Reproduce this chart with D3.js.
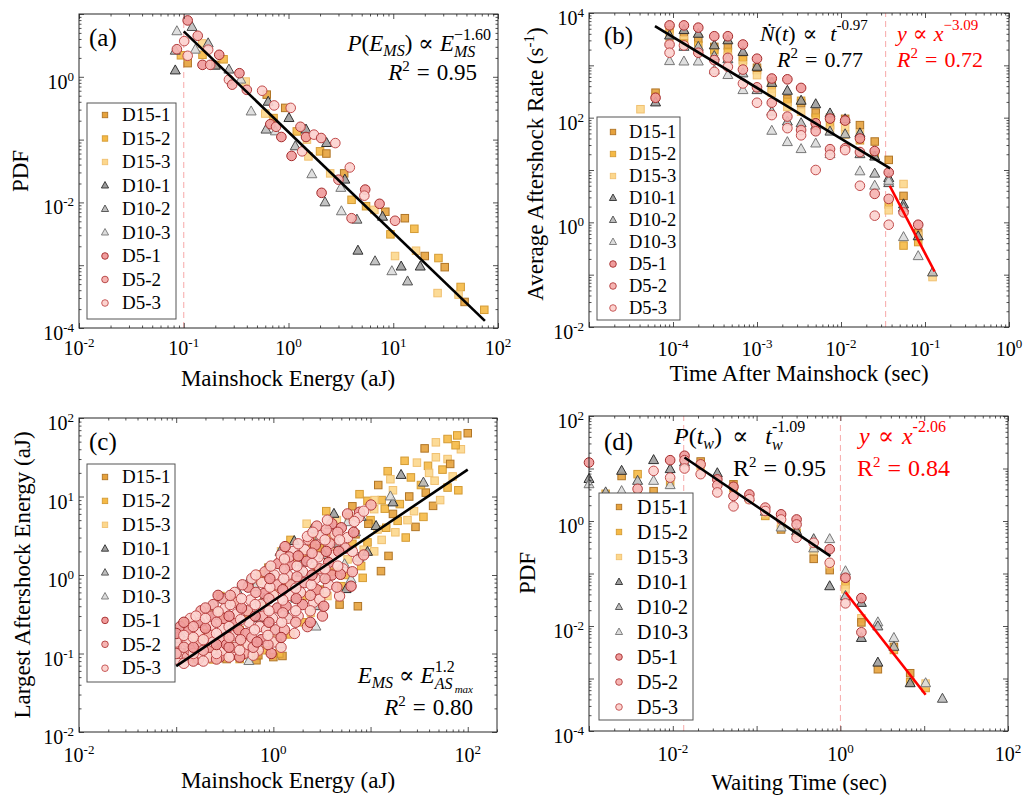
<!DOCTYPE html>
<html><head><meta charset="utf-8">
<script src="https://cdn.jsdelivr.net/npm/d3@7"></script>
<style>
body{margin:0;background:#fff;}
svg{display:block;}
</style></head><body>
<svg id="chart" width="1025" height="803"></svg>
<script>
// ---------------- DATA ----------------
const seriesNames = ['D15-1','D15-2','D15-3','D10-1','D10-2','D10-3','D5-1','D5-2','D5-3'];

// Panel (a): [mainshock energy, PDF, sub-series]
const a_D15 = [[0.094,2.2,2],[0.109,1.65,1],[0.151,2.24,2],[0.15,3.4,3],[0.2,1.55,1],[0.24,1.9,2],[0.39,0.84,3],[0.62,0.52,1],[0.6,0.26,3],[0.72,0.22,2],[0.93,0.32,1],[1.2,0.135,2],[1.5,0.1,3],[1.55,0.054,3],[2.0,0.065,2],[2.3,0.06,1],[2.5,0.029,3],[3.4,0.029,1],[4.0,0.011,2],[5.5,0.0087,2],[6.6,0.0076,3],[8.4,0.0071,1],[9.4,0.0031,2],[10.4,0.0014,3],[12.9,0.0056,1],[15.9,0.0038,2],[16.5,0.0017,3],[20,0.0014,1],[27,0.0013,2],[26.5,0.00036,3],[31,0.00093,1],[44,0.00045,2],[42,0.00034,3],[48,0.00026,1],[74,0.000195,2]];
const a_D10 = [[0.086,5.3,3],[0.12,6.2,2],[0.083,2.6,2],[0.083,1.26,1],[0.171,3.4,2],[0.129,2.7,3],[0.2,1.5,1],[0.27,1.3,2],[0.35,0.9,3],[0.44,0.28,3],[0.61,0.144,2],[0.64,0.4,1],[0.75,0.135,3],[1.01,0.22,1],[1.16,0.078,2],[1.47,0.144,1],[1.67,0.028,3],[2.31,0.088,1],[2.23,0.01,2],[3.16,0.017,3],[3.45,0.023,1],[3.2,0.0072,3],[4.5,0.0053,2],[4.6,0.0017,1],[6.7,0.00115,2],[7.9,0.0059,1],[9.7,0.0008,3],[11.9,0.00095,1],[13.7,0.00055,2],[18.1,0.00095,1]];
const a_D5 = [[0.109,7.9,1],[0.101,3.7,3],[0.086,2.75,2],[0.109,2.16,3],[0.136,4.5,2],[0.151,1.55,1],[0.171,2.7,3],[0.179,1.55,2],[0.218,2.24,1],[0.27,0.9,3],[0.29,0.75,2],[0.34,1.14,1],[0.4,0.62,2],[0.56,0.6,3],[0.73,0.35,3],[0.67,0.176,1],[0.76,0.16,2],[0.855,0.11,1],[1.05,0.32,3],[1.07,0.055,1],[1.3,0.16,2],[1.35,0.065,3],[1.47,0.11,1],[1.75,0.12,3],[2.05,0.106,2],[2.8,0.088,3],[2.07,0.0142,1],[3.0,0.023,2],[3.85,0.036,3],[4.0,0.0056,2],[5.4,0.016,1],[5.3,0.0128,3],[7.4,0.0095,1],[10.4,0.0051,2]];
const a_fit = [[0.1,5.3],[75,0.00013]];
const a_cut = 0.1;

// Panel (b): [time after mainshock, rate, sub-series]
const b_D15 = [[4.1e-5,145,3],[6.2e-5,300,1],[6.2e-5,250,2],[9.1e-5,4700,2],[9.1e-5,3500,3],[1.35e-4,3700,1],[1.35e-4,3000,3],[1.35e-4,2600,2],[2.0e-4,3240,1],[2.0e-4,2400,2],[2e-4,1900,3],[3.1e-4,2250,1],[3.1e-4,1800,3],[3.1e-4,2000,2],[4.5e-4,2400,1],[4.5e-4,1800,2],[4.5e-4,1500,3],[6.8e-4,1450,1],[6.8e-4,1260,2],[6.8e-4,1000,3],[1e-3,810,2],[1e-3,650,3],[1e-3,900,1],[1.5e-3,490,1],[1.5e-3,360,2],[1.5e-3,300,3],[2.3e-3,225,1],[2.3e-3,200,2],[2.3e-3,160,3],[3.35e-3,130,3],[3.35e-3,190,1],[3.35e-3,210,2],[5e-3,125,1],[5e-3,100,2],[5e-3,80,3],[7.4e-3,72,2],[7.4e-3,58,3],[7.4e-3,100,1],[0.0112,67,3],[0.0112,47,3],[0.0112,95,1],[0.0168,72,1],[0.0168,37,2],[0.0168,50,3],[0.0252,35,1],[0.0252,19,2],[0.037,15.6,1],[0.037,2.2,2],[0.037,1.7,3],[0.0555,5.4,3],[0.0555,3.2,1],[0.0555,0.36,2],[0.083,0.42,2],[0.083,0.63,1],[0.083,0.55,3],[0.123,0.09,3]];
const b_D10 = [[6.2e-5,195,1],[9.1e-5,3700,1],[9.1e-5,1200,3],[1.35e-4,4700,1],[1.35e-4,2250,2],[1.35e-4,1180,3],[2e-4,4000,1],[2e-4,2250,2],[2e-4,1180,3],[3.1e-4,2400,1],[3.1e-4,1500,2],[3.1e-4,800,3],[4.5e-4,3000,1],[4.5e-4,1300,2],[4.5e-4,650,3],[6.8e-4,1800,1],[6.8e-4,700,2],[6.8e-4,335,3],[1e-3,935,1],[1e-3,335,2],[1.5e-3,460,1],[1.5e-3,130,2],[1.5e-3,56,3],[2.3e-3,325,1],[2.3e-3,84,2],[2.3e-3,34,3],[3.35e-3,210,1],[3.35e-3,78,2],[3.35e-3,25,3],[5e-3,180,1],[5e-3,70,2],[5e-3,32,3],[7.4e-3,120,1],[7.4e-3,54,2],[7.4e-3,20,3],[0.0112,93,1],[0.0112,48,2],[0.0168,50,1],[0.0168,20,2],[0.0168,9.4,3],[0.0252,18,1],[0.0252,8.5,2],[0.0252,5,3],[0.037,7,1],[0.037,5.6,2],[0.037,6.2,3],[0.0555,2.2,1],[0.0555,1.9,2],[0.0555,0.52,3],[0.083,0.54,1],[0.083,0.225,3],[0.123,0.11,2]];
const b_D5 = [[6.2e-5,240,1],[9.1e-5,5800,1],[9.1e-5,2500,2],[9.1e-5,1740,3],[1.35e-4,5800,1],[1.35e-4,2400,3],[2e-4,5250,1],[2e-4,1740,2],[3.1e-4,3600,1],[3.1e-4,1260,2],[3.1e-4,750,3],[4.5e-4,3600,1],[4.5e-4,1390,2],[4.5e-4,935,3],[6.8e-4,2500,1],[6.8e-4,830,2],[6.8e-4,450,3],[1e-3,1340,1],[1e-3,380,2],[1e-3,193,3],[1.5e-3,560,1],[1.5e-3,193,2],[1.5e-3,112,3],[2.3e-3,540,1],[2.3e-3,105,2],[2.3e-3,63,3],[3.35e-3,370,1],[3.35e-3,58,2],[3.35e-3,46,3],[5e-3,78,1],[5e-3,55,2],[5e-3,10,3],[7.4e-3,96,1],[7.4e-3,25,2],[7.4e-3,19.5,3],[0.0112,88,1],[0.0112,26,2],[0.0112,24,3],[0.0168,40,1],[0.0168,22,2],[0.0168,5,3],[0.0252,23,1],[0.0252,3.5,2],[0.0252,1.34,3],[0.037,9,1],[0.037,2.8,2],[0.037,0.9,3],[0.0555,1.55,2],[0.083,0.9,1]];
const b_fit = [[6.1e-5,5600],[0.0385,10.7]];
const b_fit2 = [[0.038,5.0],[0.13,0.115]];
const b_cut = 0.034;

// Panel (c): [mainshock energy, largest aftershock energy, sub-series]
const c_D15 = [[100,64,1],[78,60,2],[62,54,2],[47,49,3],[36,41,1],[22.4,28.5,2],[30,27,3],[39,24.6,2],[47,31.6,3],[62,30,3],[15,21,2],[16,16.6,3],[26,17.5,2],[45.6,15.9,3],[62,13,2],[37,11.2,1],[44,7.6,1],[29,4.1,1],[23,3.0,2],[15.3,1.75,1],[12.8,1.12,1],[8.3,0.92,2],[7.4,0.4,1],[4.8,0.42,1],[7.7,10.7,2],[9.3,8.8,2],[10.9,6.9,3],[19,4.9,2],[11.8,3.8,3],[14.5,4.0,2],[9.3,2.6,2],[10.9,2.0,3],[8,1.3,2],[5.8,1.58,3],[5,0.72,2],[3.6,0.54,3],[2.2,0.54,2],[0.89,1.24,1],[0.74,1.02,2],[0.285,0.54,2],[0.124,0.246,2],[0.66,0.093,2],[0.67,0.082,1],[1.24,0.093,1],[1.5,0.175,2],[2.43,0.33,3],[0.13,0.25,3],[0.24,0.084,2],[0.39,0.54,2],[12,14,1],[13,9,2],[17,12,3],[20,8,2],[25,10,1],[28,6.5,3],[33,14,2],[40,20,3],[55,22,2],[70,18,3],[80,12,2],[85,40,3],[75,45,2],[66,26,1],[52,9,3],[35,5.5,2],[24,5.0,3],[17,6,1],[10,5,2],[13,2.8,3],[18,3.5,3],[6.5,2.5,2],[7,3.3,1],[6,5.5,2],[4.5,2.2,3],[3.8,3.0,2],[3.2,1.8,3],[2.8,1.2,1],[2.5,2.5,2],[1.8,1.5,3],[1.4,0.8,2],[1.0,0.6,3],[0.8,0.45,2],[0.55,0.32,1],[0.45,0.2,2],[0.35,0.15,3],[0.25,0.12,2],[0.18,0.1,1],[0.15,0.16,3],[0.5,0.095,3],[0.95,0.18,3],[1.15,0.1,2],[2.0,0.25,2],[3.0,0.65,1],[4.2,1.1,2],[0.3,0.3,1],[0.2,0.18,2],[0.6,0.7,3],[1.2,2.0,3],[1.5,2.8,2],[3.5,6.5,2],[2.2,4.5,3],[0.12,0.09,1],[0.16,0.085,2],[0.2,0.11,3],[0.28,0.095,2],[0.33,0.085,1],[0.45,0.085,2],[0.5,0.13,3],[0.7,0.095,1],[0.85,0.11,2],[1.0,0.09,1],[1.1,0.14,3],[0.25,0.35,3],[0.18,0.15,2],[0.4,0.45,1],[0.7,0.85,2],[1.3,1.5,1],[2.6,3.2,2],[4.5,5.0,3],[2.0,1.8,2],[3.0,2.2,1],[5.5,1.0,2],[8.5,2.1,3],[9.5,4.5,1],[11,9,3],[14,7,2],[6.5,7.5,1]];
const c_D10 = [[20.6,18.8,1],[35,15,2],[17,8.4,1],[16,10,3],[4.2,6.0,1],[3.8,4.3,2],[5.8,4.7,3],[11.4,4.2,1],[1.64,2.7,1],[1.17,1.97,2],[3.0,3.15,3],[9.3,1.97,1],[7.6,1.66,2],[5.4,1.37,3],[0.56,0.85,1],[0.43,0.62,2],[0.235,0.41,3],[0.31,0.49,1],[0.11,0.18,2],[0.094,0.15,1],[2.74,0.22,3],[2.85,0.4,2],[5.6,0.66,1],[0.56,0.08,3],[1.19,0.13,2],[1.4,0.3,1],[0.24,0.3,2],[0.15,0.124,3],[5,2.1,2],[6.3,0.88,3],[1.9,1.07,1],[1.99,1.44,2],[8,5.5,2],[7,3.5,3],[4.5,2.5,1],[3.3,1.8,2],[2.3,1.6,3],[2.5,3.8,2],[1.3,0.9,3],[0.8,0.5,2],[0.7,0.28,1],[0.35,0.2,3],[0.18,0.25,1],[0.12,0.1,2],[1.0,0.2,3],[1.7,0.5,2],[3.5,0.9,1],[0.9,1.1,2],[0.65,0.7,3]];
const c_D5 = [[0.1,0.085,3],[0.1,0.12,1],[0.105,0.16,2],[0.11,0.1,3],[0.11,0.22,1],[0.13,0.09,2],[0.13,0.14,3],[0.135,0.2,1],[0.14,0.11,2],[0.14,0.28,3],[0.17,0.085,1],[0.17,0.13,2],[0.17,0.19,3],[0.175,0.25,1],[0.18,0.1,3],[0.18,0.35,2],[0.22,0.09,3],[0.22,0.12,1],[0.22,0.17,2],[0.23,0.23,3],[0.23,0.3,1],[0.24,0.14,3],[0.24,0.42,2],[0.28,0.09,1],[0.3,0.11,3],[0.29,0.15,2],[0.3,0.21,3],[0.31,0.28,1],[0.32,0.38,3],[0.3,0.5,2],[0.33,0.13,1],[0.37,0.095,3],[0.4,0.12,2],[0.38,0.17,3],[0.4,0.24,1],[0.42,0.32,3],[0.41,0.45,2],[0.4,0.6,3],[0.44,0.2,1],[0.5,0.1,2],[0.55,0.13,3],[0.52,0.18,1],[0.56,0.25,3],[0.54,0.35,2],[0.58,0.48,3],[0.55,0.7,1],[0.6,0.9,3],[0.6,0.16,2],[0.7,0.11,3],[0.75,0.15,1],[0.72,0.22,3],[0.78,0.3,2],[0.74,0.42,3],[0.8,0.58,1],[0.76,0.8,3],[0.82,1.1,2],[0.85,0.2,3],[0.95,0.1,1],[1.0,0.14,3],[1.05,0.2,2],[0.98,0.28,3],[1.1,0.38,1],[1.0,0.55,3],[1.08,0.75,2],[1.02,1.0,3],[1.12,1.4,1],[1.2,1.8,3],[1.3,0.2,2],[1.4,0.28,3],[1.35,0.4,1],[1.45,0.55,3],[1.5,0.75,2],[1.4,1.0,3],[1.5,1.35,1],[1.6,2.0,3],[1.45,1.7,2],[1.8,0.3,3],[2.0,0.42,1],[1.9,0.6,3],[2.1,0.8,2],[2.0,1.1,3],[2.2,1.5,1],[2.1,2.1,3],[2.3,2.8,2],[2.6,0.45,3],[2.8,0.65,1],[2.7,0.9,3],[3.0,1.2,2],[2.9,1.7,3],[2.7,2.4,1],[3.1,3.2,3],[2.8,4.2,2],[3.7,0.75,3],[4.0,1.0,1],[4.2,1.8,3],[3.8,2.5,2],[4.3,3.3,3],[4.0,4.5,1],[5.2,1.2,3],[5.5,2.2,2],[5.8,3.0,3],[5.0,4.0,1],[10.1,7.8,2],[7.7,6.3,1],[7.5,5.4,3],[5.8,6.0,2],[7.4,1.55,3],[6.3,0.72,1],[3.2,0.3,2],[4.8,0.54,3],[3.7,1.44,1],[4.6,3.5,2],[2.24,3.1,3],[4.9,1.02,1],[3.0,0.49,3],[2.24,0.22,2],
[0.1,0.1,2],[0.1,0.14,3],[0.1,0.18,1],[0.12,0.075,3],[0.12,0.12,2],[0.12,0.17,3],[0.12,0.25,1],[0.15,0.08,2],[0.15,0.1,3],[0.15,0.12,1],[0.15,0.16,3],[0.15,0.22,2],[0.16,0.3,3],[0.19,0.08,3],[0.19,0.11,2],[0.19,0.15,3],[0.2,0.21,1],[0.2,0.28,3],[0.2,0.38,2],[0.26,0.085,2],[0.26,0.1,3],[0.26,0.13,1],[0.26,0.18,3],[0.26,0.25,2],[0.27,0.34,3],[0.27,0.55,1],[0.35,0.09,3],[0.35,0.12,1],[0.35,0.16,2],[0.35,0.22,3],[0.35,0.3,1],[0.36,0.42,3],[0.36,0.55,2],[0.45,0.09,1],[0.45,0.11,3],[0.46,0.15,2],[0.46,0.27,3],[0.47,0.38,1],[0.47,0.5,3],[0.48,0.75,2],[0.62,0.095,3],[0.62,0.12,2],[0.64,0.2,3],[0.65,0.3,1],[0.65,0.42,3],[0.66,0.6,2],[0.66,1.0,3],[0.68,0.14,1],[0.88,0.13,2],[0.88,0.17,3],[0.9,0.25,1],[0.9,0.35,3],[0.9,0.5,2],[0.92,0.7,3],[0.92,0.9,1],[0.94,1.3,3],[1.2,0.12,3],[1.2,0.16,1],[1.22,0.25,3],[1.25,0.33,2],[1.25,0.48,3],[1.25,0.65,1],[1.28,0.9,3],[1.3,1.2,2],[1.3,1.6,3],[1.32,2.3,1],[1.65,0.18,3],[1.7,0.25,2],[1.7,0.35,3],[1.72,0.5,1],[1.7,0.68,3],[1.75,0.95,2],[1.75,1.3,3],[1.8,1.75,1],[1.8,2.5,3],[2.4,0.25,1],[2.4,0.35,3],[2.4,0.55,2],[2.45,0.75,3],[2.5,1.0,1],[2.5,1.4,3],[2.5,1.9,2],[2.55,3.5,3],[3.3,0.4,1],[3.4,0.6,3],[3.4,0.9,2],[3.4,1.2,3],[3.5,2.0,1],[3.4,2.8,3],[3.5,3.8,2],[3.6,5.0,3],[4.5,0.7,2],[4.6,1.3,3],[4.7,2.0,1],[4.8,2.8,3],[6.5,1.1,2],[6.5,2.0,3],[6.7,3.5,1],[6.8,4.8,3],[8.5,1.8,2],[8.5,6.5,3]];
const c_fit = [[0.1,0.069],[100,22]];

// Panel (d): [waiting time, PDF, sub-series]
const d_D15 = [[1.58e-3,3.3,2],[2.45e-3,7.2,1],[3.8e-3,7.8,2],[3.8e-3,3.0,3],[5.9e-3,3.7,1],[9.3e-3,5.5,2],[0.0215,13.6,1],[0.0215,11,3],[0.053,5.0,1],[0.053,4.2,2],[0.082,2.6,3],[0.127,1.25,2],[0.127,1.4,3],[0.196,0.69,1],[0.196,0.8,3],[0.30,0.6,2],[0.48,0.27,3],[0.48,0.19,1],[0.745,0.116,1],[0.745,0.15,3],[1.15,0.062,2],[1.15,0.05,3],[1.78,0.014,3],[1.78,0.0117,1],[2.8,0.0015,1],[4.35,0.004,1],[4.35,0.0035,2],[6.8,0.00126,1],[6.8,0.00085,2],[10.4,0.00066,2],[10.4,0.0008,3]];
const d_D10 = [[1e-3,6.3,1],[1e-3,5.0,3],[1.58e-3,3.5,2],[2.45e-3,9,1],[2.45e-3,3.7,3],[3.8e-3,5.8,2],[5.9e-3,14.4,1],[5.9e-3,5.8,3],[9.3e-3,9.7,1],[9.3e-3,4.8,3],[0.0138,13,2],[0.034,8.1,1],[0.082,2.8,3],[0.127,1.5,2],[0.196,0.75,3],[0.30,0.64,1],[0.48,0.45,2],[0.48,0.3,3],[0.745,0.45,3],[0.745,0.057,1],[1.15,0.11,3],[1.15,0.037,2],[1.78,0.0275,1],[1.78,0.0059,1],[2.8,0.0117,3],[2.8,0.0098,2],[2.8,0.002,1],[4.35,0.0059,3],[4.35,0.004,2],[6.8,0.00081,1],[10.4,0.00081,3],[16.5,0.00041,2]];
const d_D5 = [[1e-3,13,1],[3.8e-3,4.1,2],[5.9e-3,9,3],[9.3e-3,14.4,1],[9.3e-3,6.7,3],[0.0138,17.5,1],[0.0138,14.4,2],[0.0138,10,3],[0.0215,12,2],[0.0215,7.8,3],[0.034,6.2,1],[0.034,4.8,2],[0.034,3.5,3],[0.053,4.5,1],[0.053,3.0,2],[0.053,1.9,3],[0.082,3.2,1],[0.082,2.6,3],[0.127,1.8,2],[0.127,1.55,3],[0.196,1.34,1],[0.196,1.07,3],[0.30,1.07,1],[0.30,0.86,2],[0.30,0.48,3],[0.48,0.385,3],[0.745,0.29,1],[0.745,0.16,3],[1.15,0.083,1],[1.15,0.027,3],[1.78,0.034,1],[1.78,0.0076,2]];
const d_fit = [[0.0138,16.2],[0.76,0.214]];
const d_fit2 = [[1.15,0.044],[10.4,0.00049]];
const d_cut1 = 0.0135, d_cut2 = 1.0;

// ---------------- STYLES ----------------
const FONT = '"Liberation Serif", "DejaVu Serif", "Times New Roman", Times, serif';
const sqStyle = [{f:'#e6a23c',s:'#b07526'},{f:'#f5b945',s:'#d49b34'},{f:'#fcd78c',s:'#f0c070'}];
const triStyle = [{f:'#9d9d9d',s:'#2f2f2f'},{f:'#bdbdbd',s:'#4d4d4d'},{f:'#dcdcdc',s:'#777777'}];
const cirStyle = [{f:'#f09c9c',s:'#a42a2a'},{f:'#f6b4b2',s:'#b23c3c'},{f:'#fcd3cf',s:'#c24c4c'}];
const AX = '#262626';

const svg = d3.select('#chart');

function rich(parent, x, y, parts, o) {
  o = o || {};
  const base = o.size || 20, anchor = o.anchor || 'start';
  const g = parent.append('g');
  const inner = g.append('g');
  let cx = 0, lastStart = 0, lastEnd = 0;
  parts.forEach(([t, p]) => {
    p = p || {};
    const start = p.st ? lastStart : cx + (p.pl || 0);
    const el = inner.append('text').attr('x', start).attr('y', p.dy || 0)
      .attr('font-family', FONT)
      .style('font-family', FONT)
      .style('font-size', (p.s || base) + 'px')
      .style('font-style', p.i ? 'italic' : 'normal')
      .style('white-space', 'pre')
      .style('fill', o.color || '#000')
      .text(t);
    const w = el.node().getComputedTextLength();
    if (p.st) { cx = Math.max(lastEnd, start + w) + (p.pr || 0); }
    else { lastStart = start; lastEnd = start + w; cx = start + w + (p.pr || 0); }
  });
  const off = anchor === 'end' ? -cx : anchor === 'middle' ? -cx / 2 : 0;
  inner.attr('transform', `translate(${off},0)`);
  g.attr('transform', `translate(${x},${y})` + (o.rotate ? ` rotate(${o.rotate})` : ''));
  return g;
}

function logTicks(dom) {
  const lo = Math.log10(dom[0]), hi = Math.log10(dom[1]);
  const majors = [], minors = [];
  for (let e = Math.floor(lo); e <= Math.ceil(hi); e++) {
    const v = Math.pow(10, e);
    if (v >= dom[0] * 0.999 && v <= dom[1] * 1.001) majors.push(v);
    for (let k = 2; k <= 9; k++) { const m = k * v; if (m >= dom[0] && m <= dom[1] * 1.001) minors.push(m); }
  }
  return { majors, minors };
}

function tickLabel(v) { const e = Math.round(Math.log10(v)); return [['10'], [e < 0 ? '-' + (-e) : '' + e, { s: 13, dy: -8 }]]; }

function drawAxes(g, x, y, P) {
  const [x0, x1] = x.range(), [y0, y1] = y.range();
  const xt = logTicks(x.domain()), yt = logTicks(y.domain());
  const add = (fn, sc, vals, len, tr) => {
    const a = g.append('g').attr('transform', tr).call(fn(sc).tickValues(vals).tickSize(-len).tickFormat(''));
    a.select('.domain').remove();
    a.selectAll('line').attr('stroke', AX).attr('stroke-width', 0.8);
  };
  [[xt.majors, 5], [xt.minors, 2.5]].forEach(([v, l]) => {
    add(d3.axisBottom, x, v, l, `translate(0,${y0})`);
    add(d3.axisTop, x, v, l, `translate(0,${y1})`);
  });
  [[yt.majors, 5], [yt.minors, 2.5]].forEach(([v, l]) => {
    add(d3.axisLeft, y, v, l, `translate(${x0},0)`);
    add(d3.axisRight, y, v, l, `translate(${x1},0)`);
  });
  g.append('rect').attr('x', x0).attr('y', y1).attr('width', x1 - x0).attr('height', y0 - y1)
    .attr('fill', 'none').attr('stroke', AX).attr('stroke-width', 1);
  P.xl.forEach(v => rich(g, x(v), y0 + P.xOff, tickLabel(v), { size: 20, anchor: 'middle' }));
  P.yl.forEach(v => rich(g, x0 - 5, y(v) + 12, tickLabel(v), { size: 20, anchor: 'end' }));
}

function markers(g, data, shape, x, y, sz) {
  data.forEach(d => {
    const px = x(d[0]), py = y(d[1]);
    if (shape === 'sq') {
      const st = sqStyle[d[2] - 1];
      g.append('rect').attr('x', px - sz.sq / 2).attr('y', py - sz.sq / 2).attr('width', sz.sq).attr('height', sz.sq)
        .attr('fill', st.f).attr('fill-opacity', 0.9).attr('stroke', st.s).attr('stroke-width', 1);
    } else if (shape === 'tri') {
      const st = triStyle[d[2] - 1], w = sz.tri, h = sz.tri * 0.9;
      g.append('path').attr('d', `M${px},${py - h * 0.62}L${px + w / 2},${py + h * 0.38}L${px - w / 2},${py + h * 0.38}Z`)
        .attr('fill', st.f).attr('fill-opacity', 0.9).attr('stroke', st.s).attr('stroke-width', 1);
    } else {
      const st = cirStyle[d[2] - 1];
      g.append('circle').attr('cx', px).attr('cy', py).attr('r', sz.r)
        .attr('fill', st.f).attr('fill-opacity', 0.92).attr('stroke', st.s).attr('stroke-width', 1);
    }
  });
}

function fitLine(g, pts, x, y, color) {
  g.append('path').attr('d', d3.line().x(d => x(d[0])).y(d => y(d[1]))(pts))
    .attr('stroke', color).attr('stroke-width', 2.6).attr('fill', 'none');
}
function cutLine(g, v, x, y, color) {
  const [y0, y1] = y.range();
  g.append('line').attr('x1', x(v)).attr('x2', x(v)).attr('y1', y0).attr('y2', y1)
    .attr('stroke', color).attr('stroke-width', 1).attr('stroke-dasharray', '6,4');
}

function legend(g, L) {
  g.append('rect').attr('x', L.x).attr('y', L.y).attr('width', L.w).attr('height', L.h)
    .attr('fill', '#fff').attr('stroke', '#555').attr('stroke-width', 1);
  seriesNames.forEach((n, i) => {
    const cy = L.y0 + i * L.step, k = i % 3;
    if (i < 3) {
      const st = sqStyle[k];
      g.append('rect').attr('x', L.mx - 2.7).attr('y', cy - 2.7).attr('width', 5.4).attr('height', 5.4)
        .attr('fill', st.f).attr('stroke', st.s).attr('stroke-width', 0.9);
    } else if (i < 6) {
      const st = triStyle[k];
      g.append('path').attr('d', `M${L.mx},${cy - 4}L${L.mx + 3.6},${cy + 2.5}L${L.mx - 3.6},${cy + 2.5}Z`)
        .attr('fill', st.f).attr('stroke', st.s).attr('stroke-width', 0.9);
    } else {
      const st = cirStyle[k];
      g.append('circle').attr('cx', L.mx).attr('cy', cy).attr('r', 3.3)
        .attr('fill', st.f).attr('stroke', st.s).attr('stroke-width', 0.9);
    }
    g.append('text').attr('x', L.tx).attr('y', cy + L.fs * 0.33).text(n)
      .attr('font-family', FONT).style('font-family', FONT)
      .style('font-size', L.fs + 'px').style('fill', '#000');
  });
}

const SZ = { sq: 7.5, tri: 10, r: 4.8 };
const SZC = { sq: 7.5, tri: 10, r: 5.2 };

// ---------------- PANEL A ----------------
(function () {
  const g = svg.append('g');
  const x = d3.scaleLog().domain([1e-2, 1e2]).range([79, 498]);
  const y = d3.scaleLog().domain([1e-4, 1e1]).range([328, 14]);
  cutLine(g, a_cut, x, y, '#f7a8a8');
  markers(g, a_D15, 'sq', x, y, SZ);
  markers(g, a_D10, 'tri', x, y, SZ);
  markers(g, a_D5, 'cir', x, y, SZ);
  fitLine(g, a_fit, x, y, '#000');
  drawAxes(g, x, y, { xl: [1e-2, 1e-1, 1, 10, 100], yl: [1e-4, 1e-2, 1], xOff: 27 });
  rich(g, 89, 46, [['(a)']], { size: 25 });
  rich(g, 491, 51, [['P', { i: 1 }], ['('], ['E', { i: 1 }], ['MS', { i: 1, s: 16, dy: 5 }], [')'], ['\u221D', { pl: 6, pr: 6 }], ['E', { i: 1 }], ['\u22121.60', { s: 16, dy: -11 }], ['MS', { i: 1, s: 16, dy: 6, st: 1 }]], { size: 23, anchor: 'end' });
  rich(g, 477, 80, [['R', { i: 1 }], ['2', { s: 15, dy: -9 }], ['=', { pl: 7, pr: 7 }], ['0.95']], { size: 23, anchor: 'end' });
  rich(g, 28, 171, [['PDF']], { size: 23, anchor: 'middle', rotate: -90 });
  rich(g, 288, 386, [['Mainshock Energy (aJ)']], { size: 23, anchor: 'middle' });
  legend(g, { x: 87, y: 103, w: 89, h: 216, y0: 115, step: 23.5, mx: 105, tx: 122, fs: 19 });
})();

// ---------------- PANEL B ----------------
(function () {
  const g = svg.append('g');
  const x = d3.scaleLog().domain([1e-5, 1]).range([589, 1009]);
  const y = d3.scaleLog().domain([1e-2, 1e4]).range([327, 13]);
  cutLine(g, b_cut, x, y, '#f7a8a8');
  markers(g, b_D15, 'sq', x, y, SZ);
  markers(g, b_D10, 'tri', x, y, SZ);
  markers(g, b_D5, 'cir', x, y, SZ);
  fitLine(g, b_fit, x, y, '#000');
  fitLine(g, b_fit2, x, y, '#ff0000');
  drawAxes(g, x, y, { xl: [1e-4, 1e-3, 1e-2, 1e-1, 1], yl: [1e-2, 1, 1e2, 1e4], xOff: 29 });
  rich(g, 604, 44, [['(b)']], { size: 25 });
  rich(g, 760, 41, [['\u1E44', { i: 1 }], ['('], ['t', { i: 1 }], [')'], ['\u221D', { pl: 7, pr: 13 }], ['t', { i: 1 }], ['-0.97', { s: 15, dy: -11 }]], { size: 22 });
  rich(g, 777, 67, [['R', { i: 1 }], ['2', { s: 15, dy: -9 }], ['=', { pl: 7, pr: 7 }], ['0.77']], { size: 22 });
  rich(g, 897, 41, [['y', { i: 1 }], ['\u221D', { pl: 6, pr: 6 }], ['x', { i: 1 }], ['\u22123.09', { s: 15, dy: -11 }]], { size: 22, color: '#ff0000' });
  rich(g, 897, 67, [['R', { i: 1 }], ['2', { s: 15, dy: -9 }], ['=', { pl: 7, pr: 7 }], ['0.72']], { size: 22, color: '#ff0000' });
  rich(g, 543, 164, [['Average Aftershock Rate (s'], ['-1', { s: 15, dy: -9 }], [')']], { size: 23, anchor: 'middle', rotate: -90 });
  rich(g, 799, 381, [['Time After Mainshock (sec)']], { size: 23, anchor: 'middle' });
  legend(g, { x: 597, y: 117, w: 83, h: 203, y0: 132, step: 22, mx: 613, tx: 629, fs: 18.5 });
})();

// ---------------- PANEL C ----------------
(function () {
  const g = svg.append('g');
  const x = d3.scaleLog().domain([1e-2, 200]).range([79, 497]);
  const y = d3.scaleLog().domain([1e-2, 1e2]).range([732, 418]);
  markers(g, c_D15, 'sq', x, y, SZC);
  markers(g, c_D10, 'tri', x, y, SZC);
  markers(g, c_D5, 'cir', x, y, SZC);
  fitLine(g, c_fit, x, y, '#000');
  drawAxes(g, x, y, { xl: [1e-2, 1, 1e2], yl: [1e-2, 1e-1, 1, 10, 100], xOff: 30 });
  rich(g, 89, 450, [['(c)']], { size: 25 });
  rich(g, 473, 683, [['E', { i: 1 }], ['MS', { i: 1, s: 16, dy: 5 }], ['\u221D', { pl: 6, pr: 6 }], ['E', { i: 1 }], ['1.2', { s: 16, dy: -11 }], ['AS', { i: 1, s: 16, dy: 6, st: 1 }], ['max', { i: 1, s: 11, dy: 10 }]], { size: 23, anchor: 'end' });
  rich(g, 473, 715, [['R', { i: 1 }], ['2', { s: 15, dy: -9 }], ['=', { pl: 7, pr: 7 }], ['0.80']], { size: 23, anchor: 'end' });
  rich(g, 30, 575, [['Largest Aftershock Energy (aJ)']], { size: 23, anchor: 'middle', rotate: -90 });
  rich(g, 288, 788, [['Mainshock Energy (aJ)']], { size: 23, anchor: 'middle' });
  legend(g, { x: 87, y: 464, w: 88, h: 218, y0: 477, step: 23.9, mx: 105, tx: 122, fs: 19 });
})();

// ---------------- PANEL D ----------------
(function () {
  const g = svg.append('g');
  const x = d3.scaleLog().domain([1e-3, 1e2]).range([589, 1008]);
  const y = d3.scaleLog().domain([1e-4, 1e2]).range([731, 416]);
  cutLine(g, d_cut1, x, y, '#f7a8a8');
  cutLine(g, d_cut2, x, y, '#f7a8a8');
  markers(g, d_D15, 'sq', x, y, SZ);
  markers(g, d_D10, 'tri', x, y, SZ);
  markers(g, d_D5, 'cir', x, y, SZ);
  fitLine(g, d_fit, x, y, '#000');
  fitLine(g, d_fit2, x, y, '#ff0000');
  drawAxes(g, x, y, { xl: [1e-2, 1, 1e2], yl: [1e-4, 1e-2, 1, 1e2], xOff: 30 });
  rich(g, 604, 450, [['(d)']], { size: 25 });
  rich(g, 674, 444, [['P', { i: 1 }], ['('], ['t', { i: 1 }], ['w', { i: 1, s: 16, dy: 5 }], [')'], ['\u221D', { pl: 10, pr: 17 }], ['t', { i: 1 }], ['-1.09', { s: 16, dy: -12 }], ['w', { i: 1, s: 16, dy: 6, st: 1 }]], { size: 24 });
  rich(g, 733, 476, [['R'], ['2', { s: 15, dy: -9 }], ['=', { pl: 7, pr: 7 }], ['0.95']], { size: 24 });
  rich(g, 859, 444, [['y', { i: 1 }], ['\u221D', { pl: 8, pr: 8 }], ['x', { i: 1 }], ['-2.06', { s: 16, dy: -12 }]], { size: 24, color: '#ff0000' });
  rich(g, 857, 476, [['R'], ['2', { s: 15, dy: -9 }], ['=', { pl: 7, pr: 7 }], ['0.84']], { size: 24, color: '#ff0000' });
  rich(g, 535, 573, [['PDF']], { size: 23, anchor: 'middle', rotate: -90 });
  rich(g, 799, 790, [['Waiting Time (sec)']], { size: 23, anchor: 'middle' });
  legend(g, { x: 599, y: 493, w: 94, h: 227, y0: 507, step: 25, mx: 619, tx: 637, fs: 20 });
})();
</script></body></html>
